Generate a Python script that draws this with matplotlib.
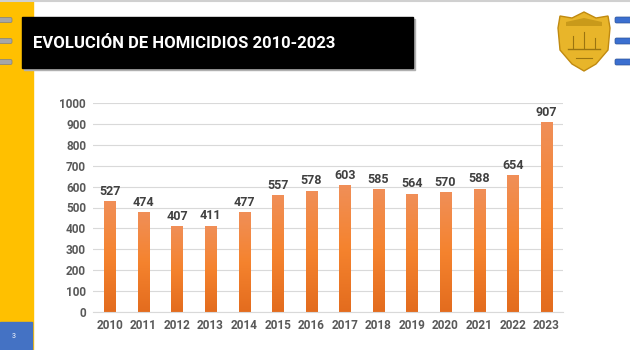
"""Evolución de homicidios 2010-2023, slide-style bar chart."""

import matplotlib
matplotlib.use("Agg")
import matplotlib.pyplot as plt
import numpy as np
from matplotlib.patches import Rectangle, Polygon, FancyBboxPatch

years = ["2010", "2011", "2012", "2013", "2014", "2015", "2016",
         "2017", "2018", "2019", "2020", "2021", "2022", "2023"]
homicides = [527, 474, 407, 411, 477, 557, 578, 603, 585, 564, 570, 588, 654, 907]
y_ticks = [0, 100, 200, 300, 400, 500, 600, 700, 800, 900, 1000]

TITLE = "EVOLUCIÓN DE HOMICIDIOS 2010-2023"
W, H = 630, 350

plt.rcParams["font.family"] = ["Roboto", "DejaVu Sans"]

fig = plt.figure(figsize=(W / 100, H / 100), dpi=100)
fig.patch.set_facecolor("white")

# slide decoration in pixel coordinates
deco = fig.add_axes([0, 0, 1, 1])
deco.set_xlim(0, W)
deco.set_ylim(H, 0)
deco.axis("off")

deco.plot([0, W], [1, 1], color="#D0D0D0", lw=1.5)
deco.add_patch(Rectangle((0, 0), 33, H, color="#FFC000"))
deco.add_patch(Rectangle((0, 322), 32, 28, color="#4472C4"))
deco.text(14, 337, "3", color="white", fontsize=5, ha="center", va="center")

for ty in (20, 41, 62):
    deco.add_patch(FancyBboxPatch((-2, ty - 2.5), 14, 5, boxstyle="round,pad=0,rounding_size=1.5",
                                  color="#A6A6A6", ec="#808080", lw=0.5))
    deco.add_patch(FancyBboxPatch((615, ty - 3), 18, 6, boxstyle="round,pad=0,rounding_size=1.5",
                                  color="#3B6FD0", ec="#2F5597", lw=0.5))

# title box with a soft shadow
deco.add_patch(Rectangle((24, 19), 391, 51, color="#B0B0B0"))
deco.add_patch(Rectangle((22, 17), 391, 51, color="black"))
deco.text(33, 43, TITLE, color="white", fontsize=12, fontweight="bold", va="center")

# badge
shield = [(560, 16), (572, 18), (584, 12), (596, 18), (608, 16), (610, 28),
          (608, 50), (596, 64), (584, 71), (572, 64), (560, 50), (558, 28)]
deco.add_patch(Polygon(shield, closed=True, fc="#E8B52A", ec="#C08A10", lw=1))
deco.add_patch(Polygon([(566, 22), (584, 18), (602, 22), (602, 26), (566, 26)],
                       closed=True, fc="#C99A1A", ec="none"))
deco.plot([568, 600], [49, 49], color="#9A7410", lw=1)
deco.plot([573, 573], [36, 48], color="#9A7410", lw=0.8)
deco.plot([584, 584], [32, 48], color="#9A7410", lw=0.8)
deco.plot([595, 595], [38, 48], color="#9A7410", lw=0.8)
deco.plot([576, 592], [58, 58], color="#9A7410", lw=0.8)

# chart
ax = fig.add_axes([93 / W, (H - 312) / H, 470 / W, (312 - 103) / H])
ax.yaxis.grid(True, color="#D9D9D9", lw=0.8)
ax.set_axisbelow(True)
for side in ("top", "right", "left"):
    ax.spines[side].set_visible(False)
ax.spines["bottom"].set_color("#D9D9D9")
ax.tick_params(length=0, labelsize=8.5, labelcolor="#595959", pad=5)

x = np.arange(len(years))
bar_w = 0.33
grad = np.linspace(0, 1, 256).reshape(-1, 1)
cmap = matplotlib.colors.LinearSegmentedColormap.from_list("og", ["#E36C1E", "#F5832E", "#F08F58"])
bars = ax.bar(x, homicides, width=bar_w, color="none")
for b, v in zip(bars, homicides):
    x0 = b.get_x()
    ax.imshow(grad, extent=(x0, x0 + bar_w, 0, v), origin="lower", cmap=cmap,
              aspect="auto", zorder=2)
    ax.text(x0 + bar_w / 2, v + 18, str(v), ha="center", va="bottom",
            fontsize=9, fontweight="bold", color="#404040")

ax.set_xlim(-0.5, len(years) - 0.5)
ax.set_ylim(0, 1000)
ax.set_yticks(y_ticks)
ax.set_xticks(x)
ax.set_xticklabels(years)
for lbl in ax.get_xticklabels() + ax.get_yticklabels():
    lbl.set_fontweight("bold")

fig.savefig("out.png", dpi=100)
